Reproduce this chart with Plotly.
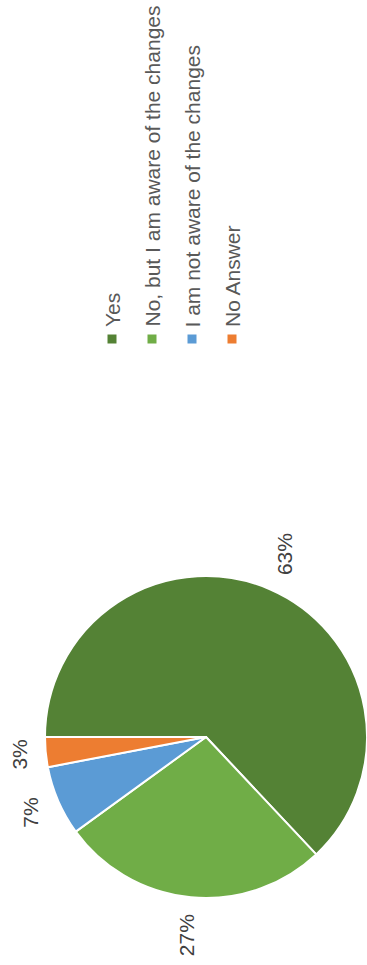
import math
import plotly.graph_objects as go

# Survey answers and their shares (percent)
categories = ["Yes", "No, but I am aware of the changes", "I am not aware of the changes", "No Answer"]
shares = [63, 27, 7, 3]
colors = ["#548235", "#70AD47", "#5B9BD5", "#ED7D31"]

W, H = 367, 965
FONT = "Liberation Sans, Arial, sans-serif"

# pie placement in pixels (figure is laid out sideways)
cx, cy, r = 206, 737, 161


def px_x(x):
    return x / W


def px_y(y):
    return 1 - y / H


fig = go.Figure(
    go.Pie(
        labels=categories,
        values=shares,
        sort=False,
        direction="clockwise",
        rotation=270,
        textinfo="none",
        hoverinfo="label+percent",
        marker=dict(colors=colors, line=dict(color="white", width=2)),
        domain=dict(x=[px_x(cx - r), px_x(cx + r)], y=[px_y(cy + r), px_y(cy - r)]),
        showlegend=False,
    )
)

annotations = []
shapes = []

# percentage labels placed outside each slice, text running bottom-to-top
total = sum(shares)
start = 270.0  # degrees clockwise from 12 o'clock
acc = 0.0
fs = 21
for val in shares:
    mid = math.radians(start + (acc + val / 2) / total * 360)
    acc += val
    ux, uy = math.sin(mid), -math.cos(mid)
    label = f"{val}%"
    text_len = sum(0.889 if ch == "%" else 0.556 for ch in label) * fs
    box_w, box_h = 0.8 * fs, text_len
    reach = r + 16 + abs(ux) * box_w / 2 + abs(uy) * box_h / 2
    lx, ly = cx + ux * reach, cy + uy * reach
    annotations.append(dict(
        x=px_x(lx), y=px_y(ly), xref="paper", yref="paper",
        text=label, showarrow=False, textangle=-90,
        xanchor="center", yanchor="middle",
        font=dict(family=FONT, size=fs, color="#404040"),
    ))

# sideways legend: colour square plus rotated entry text
leg_x0, leg_dx = 112, 40
sq = 9
for i, (name, col) in enumerate(zip(categories, colors)):
    x = leg_x0 + i * leg_dx
    shapes.append(dict(
        type="rect", xref="paper", yref="paper",
        x0=px_x(x - sq / 2), x1=px_x(x + sq / 2),
        y0=px_y(339 + sq / 2), y1=px_y(339 - sq / 2),
        fillcolor=col, line=dict(width=0),
    ))
    annotations.append(dict(
        x=px_x(x), y=px_y(329), xref="paper", yref="paper",
        text=name, showarrow=False, textangle=-90,
        xanchor="center", yanchor="bottom",
        font=dict(family=FONT, size=fs, color="#595959"),
    ))

fig.update_layout(
    width=W, height=H,
    margin=dict(l=0, r=0, t=0, b=0),
    paper_bgcolor="white", plot_bgcolor="white",
    annotations=annotations, shapes=shapes,
)

fig.write_html("out.html")
